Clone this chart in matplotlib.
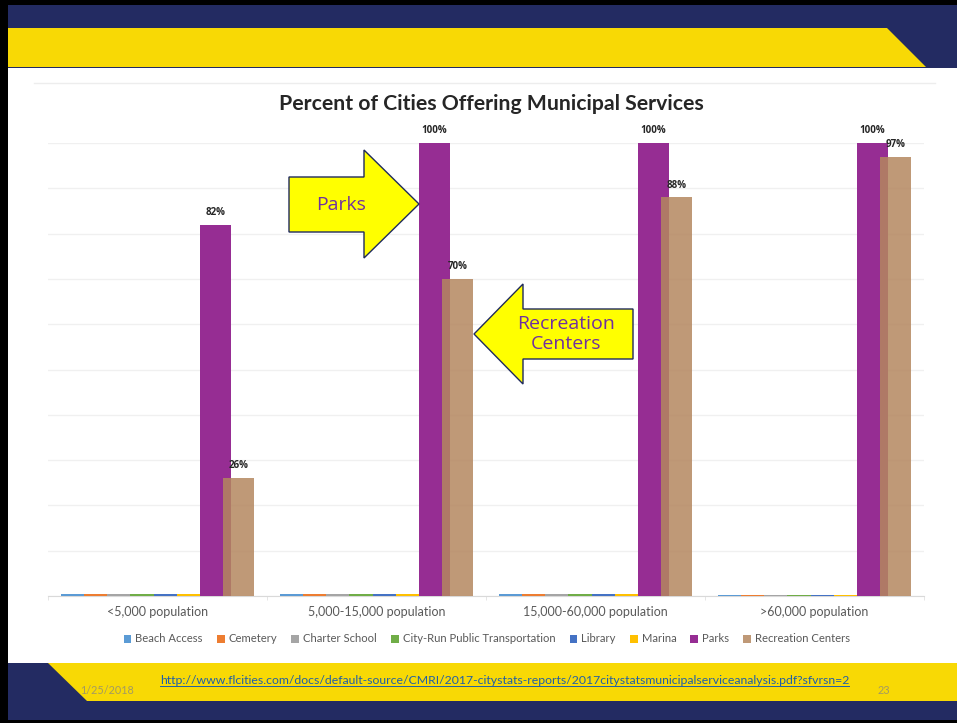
import matplotlib
matplotlib.use('Agg')
import matplotlib.pyplot as plt
from matplotlib.patches import Polygon, Rectangle
import numpy as np

# data
categories = ['<5,000 population', '5,000-15,000 population',
              '15,000-60,000 population', '>60,000 population']
series = ['Beach Access', 'Cemetery', 'Charter School', 'City-Run Public Transportation',
          'Library', 'Marina', 'Parks', 'Recreation Centers']
colors = ['#5B9BD5', '#ED7D31', '#A5A5A5', '#70AD47', '#4472C4', '#FFC000', '#962D93', '#B4875F']
values = {
    'Beach Access': [0.4, 0.4, 0.4, 0.3],
    'Cemetery': [0.4, 0.4, 0.4, 0.3],
    'Charter School': [0.4, 0.4, 0.4, 0.3],
    'City-Run Public Transportation': [0.4, 0.4, 0.4, 0.3],
    'Library': [0.4, 0.4, 0.4, 0.3],
    'Marina': [0.4, 0.4, 0.4, 0.3],
    'Parks': [82, 100, 100, 100],
    'Recreation Centers': [26, 70, 88, 97],
}
labelled = ['Parks', 'Recreation Centers']

W, H = 957, 723
fig = plt.figure(figsize=(W / 100, H / 100), dpi=100)
FONT = 'Lato'

# slide background in pixel coords
bg = fig.add_axes([0, 0, 1, 1])
bg.set_xlim(0, W)
bg.set_ylim(H, 0)
bg.axis('off')
navy = '#232B62'
yellow = '#F8D905'
bg.add_patch(Rectangle((0, 0), W, H, fc='white', ec='none'))
bg.add_patch(Rectangle((0, 0), W, 68, fc=navy, ec='none'))
bg.add_patch(Polygon([(5, 28), (887, 28), (926, 67), (5, 67)], closed=True, fc=yellow, ec='none'))
bg.add_patch(Rectangle((0, 663), W, H - 663, fc=navy, ec='none'))
bg.add_patch(Polygon([(48, 663), (W, 663), (W, 701), (87, 701)], closed=True, fc=yellow, ec='none'))
# black frame
bg.add_patch(Rectangle((0, 0), W, 5, fc='black', ec='none'))
bg.add_patch(Rectangle((0, 0), 8, H, fc='black', ec='none'))
bg.add_patch(Rectangle((0, 720), W, 3, fc='black', ec='none'))
# chart frame line
bg.plot([34, 935], [83, 83], color='#EDEDED', lw=1)

# chart axes: x 48..924 px, y 143..596 px
ax = fig.add_axes([48 / W, 1 - 596 / H, 876 / W, (596 - 143) / H])
ax.set_facecolor('none')
ax.set_xlim(-0.5, 3.5)
ax.set_ylim(0, 100)

x = np.arange(len(categories))
step = 23.1 / 219
bw = 31 / 219
for i, s in enumerate(series):
    pos = x + (i - 3.5) * step
    alpha = 0.85 if s == 'Recreation Centers' else 1.0
    bars = ax.bar(pos, values[s], width=bw, color=colors[i], alpha=alpha,
                  label=s, zorder=3 + i)
    if s in labelled:
        for b, v in zip(bars, values[s]):
            ax.text(b.get_x() + b.get_width() / 2, v + 1.5, f'{v:.0f}%',
                    ha='center', va='bottom', fontsize=7, fontweight='bold',
                    color='#262626', family='Open Sans', zorder=20)

ax.set_yticks(np.arange(0, 101, 10))
ax.yaxis.grid(True, color='#F0F0F0', lw=1, zorder=0)
ax.tick_params(axis='y', length=0, labelleft=False)
ax.set_xticks(x)
ax.set_xticklabels(categories, fontsize=9, color='#595959', family=FONT)
ax.tick_params(axis='x', length=0, pad=7)
ax.set_xticks(np.arange(-0.5, 3.6, 1), minor=True)
ax.tick_params(axis='x', which='minor', length=3, color='#E0E0E0')
for side in ['top', 'right', 'left']:
    ax.spines[side].set_visible(False)
ax.spines['bottom'].set_color('#D9D9D9')

fig.text(491 / W, 1 - 104 / H, 'Percent of Cities Offering Municipal Services',
         ha='center', va='center', fontsize=15.3, fontweight='bold',
         color='#262626', family=FONT)

handles, labels = ax.get_legend_handles_labels()
leg = fig.legend(handles, labels, loc='center', bbox_to_anchor=(487 / W, 1 - 639 / H),
                 ncol=8, frameon=False, handlelength=0.7, handleheight=0.7,
                 handletextpad=0.35, columnspacing=1.25, prop={'family': FONT, 'size': 8.1})
for t in leg.get_texts():
    t.set_color('#595959')

# callout arrows (pixel coords, drawn above the chart)
top = fig.add_axes([0, 0, 1, 1], zorder=10)
top.set_xlim(0, W)
top.set_ylim(H, 0)
top.axis('off')
top.patch.set_alpha(0)
parks_arrow = [(289, 177), (364, 177), (364, 150), (419, 204), (364, 258), (364, 232), (289, 232)]
top.add_patch(Polygon(parks_arrow, closed=True, fc='#FFFF00', ec='#1F2A5C', lw=1))
top.text(341, 205, 'Parks', ha='center', va='center', fontsize=14, color='#7030A0', family='Open Sans')
rec_arrow = [(474, 334), (523, 284), (523, 309), (633, 309), (633, 359), (523, 359), (523, 384)]
top.add_patch(Polygon(rec_arrow, closed=True, fc='#FFFF00', ec='#1F2A5C', lw=1))
top.text(566, 334, 'Recreation\nCenters', ha='center', va='center', fontsize=14,
         color='#7030A0', family='Open Sans', linespacing=1.1)

# footer
url = 'http://www.flcities.com/docs/default-source/CMRI/2017-citystats-reports/2017citystatsmunicipalserviceanalysis.pdf?sfvrsn=2'
top.text(505, 680, url, ha='center', va='center', fontsize=8.8, color='#1F5FA8', family=FONT)
top.plot([160, 849], [686, 686], color='#1F5FA8', lw=0.7)
top.text(80, 691, '1/25/2018', ha='left', va='center', fontsize=7.8, color='#A39A62', family=FONT)
top.text(884, 691, '23', ha='center', va='center', fontsize=7.8, color='#A39A62', family=FONT)

fig.savefig('out.png', dpi=100)
